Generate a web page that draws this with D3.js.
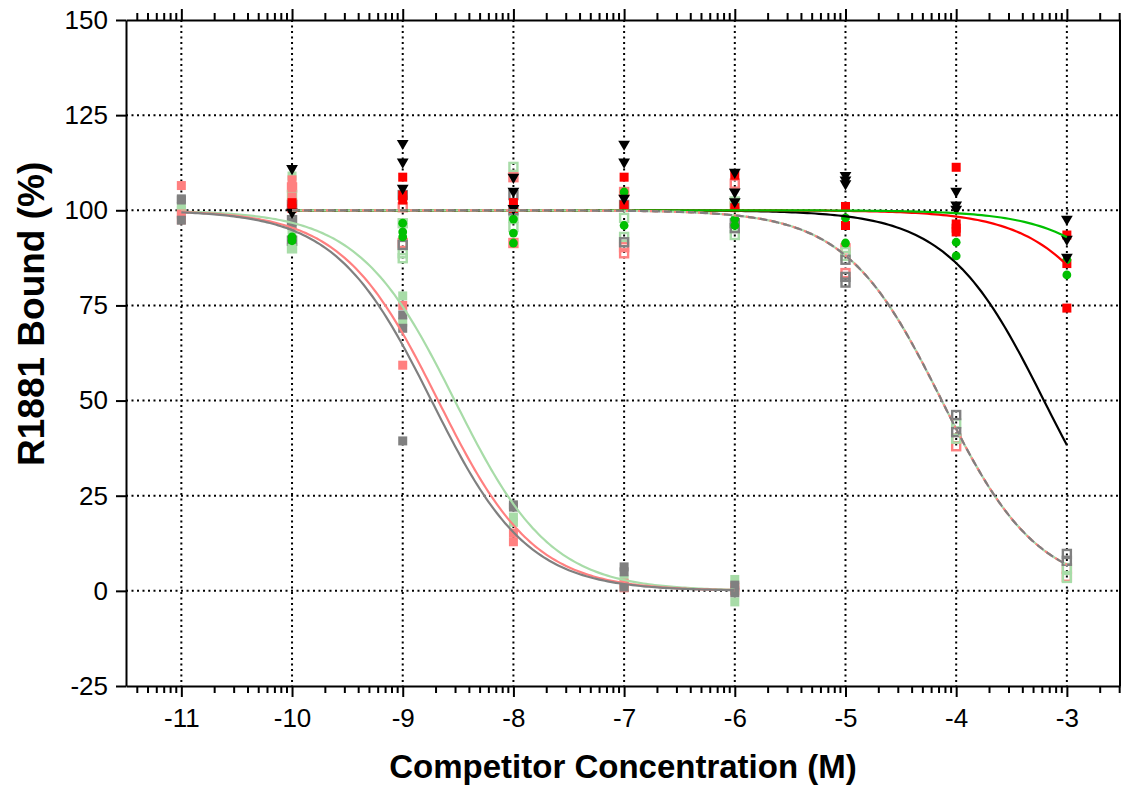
<!DOCTYPE html>
<html>
<head>
<meta charset="utf-8">
<script src="https://cdn.jsdelivr.net/npm/d3@7"></script>
<style>
  body { margin: 0; background: #fff; }
  svg text { font-family: "Liberation Sans", Arial, sans-serif; }
</style>
</head>
<body>
<div id="graphicContainer"></div>
<script>
// log concentrations and tick labels
const xTicks = [-11, -10, -9, -8, -7, -6, -5, -4, -3];
const yTicks = [-25, 0, 25, 50, 75, 100, 125, 150];

// potent competitors (solid squares, -11 .. -6)
const salmonSolid = [
  [-11, 106.5], [-11, 97.5], [-11, 99], [-10, 106], [-10, 103.5], [-10, 108],
  [-9, 75], [-9, 59.3], [-8, 15.2], [-8, 12.9], [-7, 0.8], [-7, 2], [-6, 0], [-6, 1]
];
const lgreenSolid = [
  [-11, 100], [-11, 101], [-10, 109], [-10, 104], [-10, 94.8], [-10, 90],
  [-9, 77.5], [-9, 70.6], [-8, 19.4], [-8, 18], [-7, 2.9], [-7, 1.5], [-6, 3], [-6, -2.9]
];
const graySolid = [
  [-11, 102.7], [-11, 97.4], [-11, 103], [-10, 96], [-10, 97],
  [-9, 72.5], [-9, 69], [-9, 39.4], [-8, 22.6], [-8, 22], [-7, 6.3], [-7, 5], [-7, 1],
  [-6, 1.5], [-6, -0.5]
];

// weak competitors (open squares, -10 .. -3)
const salmonOpen = [
  [-10, 101.4], [-10, 106], [-9, 100.8], [-9, 91.4], [-8, 108.7], [-8, 91.4],
  [-7, 104.8], [-7, 90.3], [-7, 88.7], [-6, 107], [-6, 101], [-5, 90], [-5, 83.5],
  [-4, 38], [-4, 40], [-3, 5.8], [-3, 3.7]
];
const lgreenOpen = [
  [-10, 104], [-10, 92], [-10, 90], [-9, 96.6], [-9, 88.7], [-9, 87.4],
  [-8, 111.4], [-8, 95.6], [-8, 98], [-7, 98], [-7, 93], [-6, 102.3], [-6, 93.5],
  [-5, 89], [-5, 88], [-4, 44], [-4, 40], [-3, 3.4], [-3, 6]
];
const grayOpen = [
  [-10, 101.4], [-10, 97.4], [-10, 92], [-9, 104], [-9, 90.9], [-8, 104], [-8, 100],
  [-7, 101.4], [-7, 91.6], [-6, 96.6], [-6, 95.3], [-5, 87], [-5, 82.5], [-5, 81],
  [-4, 46.2], [-4, 41.7], [-3, 9.7], [-3, 7.9]
];

// non-competitors
const redSolid = [
  [-10, 102], [-10, 100.5], [-9, 108.7], [-9, 104], [-9, 102.7], [-8, 102], [-8, 100.5],
  [-7, 108.7], [-7, 101.4], [-6, 109.2], [-6, 100.7], [-5, 101], [-5, 96],
  [-4, 111.3], [-4, 96.4], [-4, 95.3], [-4, 94.3], [-3, 93.5], [-3, 86], [-3, 74.3]
];
const greenDots = [
  [-10, 92], [-10, 93], [-9, 96.6], [-9, 94.3], [-9, 93], [-8, 97.7], [-8, 94], [-8, 91.4],
  [-7, 104.8], [-7, 96], [-6, 97.7], [-6, 96], [-5, 98], [-5, 91.4], [-4, 91.6], [-4, 88],
  [-3, 87], [-3, 83]
];
const blackTri = [
  [-10, 111], [-10, 99.5], [-9, 117.6], [-9, 112.7], [-9, 105.8], [-8, 108.7], [-8, 105], [-8, 100.5],
  [-7, 117.4], [-7, 112.7], [-7, 103.2], [-6, 110], [-6, 104.8], [-6, 102.3],
  [-5, 109.2], [-5, 108], [-5, 107], [-4, 105], [-4, 101.4], [-4, 100.3],
  [-3, 97.7], [-3, 92.4], [-3, 87.7]
];

// fitted one-site curves: [logIC50, from, to]
const fitSalmon = [-8.68, -11, -6];
const fitLgreen = [-8.53, -11, -6];
const fitGray = [-8.74, -11, -6];
const fitWeak = [-4.13, -10, -3];
const fitRed = [-2.225, -10, -3];
const fitGreen = [-1.883, -10, -3];
const fitBlack = [-3.207, -10, -3];

const W = 1128, H = 790;
const M = { t: 20, r: 8, b: 104, l: 126 };
const RED = '#ff0000', GREEN = '#00c000', SALMON = '#ff8080', LGREEN = '#a8dca8', GRAY = '#808080';

const svg = d3.select('#graphicContainer').append('svg')
  .attr('width', W).attr('height', H);

const x = d3.scaleLinear().domain([-11.5, -2.52]).range([M.l, W - M.r]);
const y = d3.scaleLinear().domain([-25, 150]).range([H - M.b, M.t]);

// grid
const grid = svg.append('g').attr('class', 'grid');
grid.selectAll('.vg').data(xTicks).enter().append('line')
  .attr('x1', d => x(d)).attr('x2', d => x(d))
  .attr('y1', y(150)).attr('y2', y(-25))
  .attr('stroke', '#000').attr('stroke-width', 2).attr('stroke-dasharray', '2 3.5');
grid.selectAll('.hg').data(yTicks.filter(d => d > -25 && d < 150)).enter().append('line')
  .attr('y1', d => y(d)).attr('y2', d => y(d))
  .attr('x1', x.range()[0]).attr('x2', x.range()[1])
  .attr('stroke', '#000').attr('stroke-width', 2).attr('stroke-dasharray', '2 3.5');

// minor ticks at log positions
const minor = [];
for (let dec = -12; dec <= -3; dec++) {
  for (let k = 2; k <= 9; k++) {
    const v = dec + Math.log10(k);
    if (v > -11.5 && v <= -2.52) minor.push(v);
  }
}

const fmt = d => String(d);
const xAxisB = svg.append('g')
  .attr('transform', `translate(0,${y(-25)})`)
  .call(d3.axisBottom(x).tickValues(xTicks).tickSize(11).tickPadding(12).tickFormat(fmt).tickSizeOuter(0));
xAxisB.append('g').selectAll('line').data(minor).enter().append('line')
  .attr('x1', d => x(d)).attr('x2', d => x(d)).attr('y1', 0).attr('y2', 7)
  .attr('stroke', '#000').attr('stroke-width', 2);

const xAxisT = svg.append('g')
  .attr('transform', `translate(0,${y(150)})`)
  .call(d3.axisTop(x).tickValues(xTicks).tickSize(11).tickFormat('').tickSizeOuter(0));
xAxisT.append('g').selectAll('line').data(minor).enter().append('line')
  .attr('x1', d => x(d)).attr('x2', d => x(d)).attr('y1', 0).attr('y2', -7)
  .attr('stroke', '#000').attr('stroke-width', 2);

const yAxisL = svg.append('g')
  .attr('transform', `translate(${M.l},0)`)
  .call(d3.axisLeft(y).tickValues(yTicks).tickSize(10).tickPadding(8).tickFormat(fmt).tickSizeOuter(0));

svg.append('line')
  .attr('x1', x.range()[1]).attr('x2', x.range()[1])
  .attr('y1', y(150)).attr('y2', y(-25))
  .attr('stroke', '#000').attr('stroke-width', 2);

[xAxisB, xAxisT, yAxisL].forEach(g => {
  g.selectAll('.domain').attr('stroke', '#000').attr('stroke-width', 2);
  g.selectAll('.tick line').attr('stroke', '#000').attr('stroke-width', 2);
  g.selectAll('text').attr('font-size', 26).attr('fill', '#000')
    .style('font-family', '"Liberation Sans", Arial, sans-serif');
});

// markers
const pts = svg.append('g').attr('class', 'points');
function squares(data, color, open) {
  const s = open ? 8 : 9;
  pts.append('g').selectAll('rect').data(data).enter().append('rect')
    .attr('x', d => x(d[0]) - s / 2).attr('y', d => y(d[1]) - s / 2)
    .attr('width', s).attr('height', s)
    .attr('fill', open ? 'none' : color)
    .attr('stroke', open ? color : 'none')
    .attr('stroke-width', 2.4);
}
squares(salmonOpen, SALMON, true);
squares(lgreenOpen, LGREEN, true);
squares(grayOpen, GRAY, true);
squares(lgreenSolid, LGREEN, false);
squares(salmonSolid, SALMON, false);
squares(graySolid, GRAY, false);
squares(redSolid, RED, false);

pts.append('g').selectAll('circle').data(greenDots).enter().append('circle')
  .attr('cx', d => x(d[0])).attr('cy', d => y(d[1])).attr('r', 4.4)
  .attr('fill', GREEN);

pts.append('g').selectAll('path').data(blackTri).enter().append('path')
  .attr('transform', d => `translate(${x(d[0])},${y(d[1])}) rotate(180)`)
  .attr('d', d3.symbol(d3.symbolTriangle, 60))
  .attr('fill', '#000');

// fit curves
const line = d3.line().x(d => x(d[0])).y(d => y(d[1])).curve(d3.curveLinear);
function fitCurve(p, color, dash, offset) {
  const n = 200;
  const data = d3.range(n + 1).map(i => {
    const lx = p[1] + (p[2] - p[1]) * i / n;
    return [lx, 100 / (1 + Math.pow(10, lx - p[0]))];
  });
  svg.append('path').datum(data)
    .attr('d', line)
    .attr('fill', 'none')
    .attr('stroke', color)
    .attr('stroke-width', 2.2)
    .attr('stroke-dasharray', dash || null)
    .attr('stroke-dashoffset', offset || 0);
}
fitCurve(fitLgreen, LGREEN);
fitCurve(fitSalmon, SALMON);
fitCurve(fitGray, GRAY);
fitCurve(fitBlack, '#000');
fitCurve(fitRed, RED);
fitCurve(fitGreen, GREEN);
fitCurve(fitWeak, LGREEN, '8 4', 4);
fitCurve(fitWeak, SALMON, '8 4', 2);
fitCurve(fitWeak, GRAY, '8 4', 0);

// axis titles
svg.append('text')
  .attr('x', (M.l + W - M.r) / 2).attr('y', 778)
  .attr('text-anchor', 'middle')
  .attr('font-size', 33).attr('font-weight', 'bold')
  .text('Competitor Concentration (M)');

svg.append('text')
  .attr('transform', `translate(44,466) rotate(-90)`)
  .attr('text-anchor', 'start')
  .attr('font-size', 37).attr('font-weight', 'bold')
  .text('R1881 Bound (%)');
</script>
</body>
</html>
